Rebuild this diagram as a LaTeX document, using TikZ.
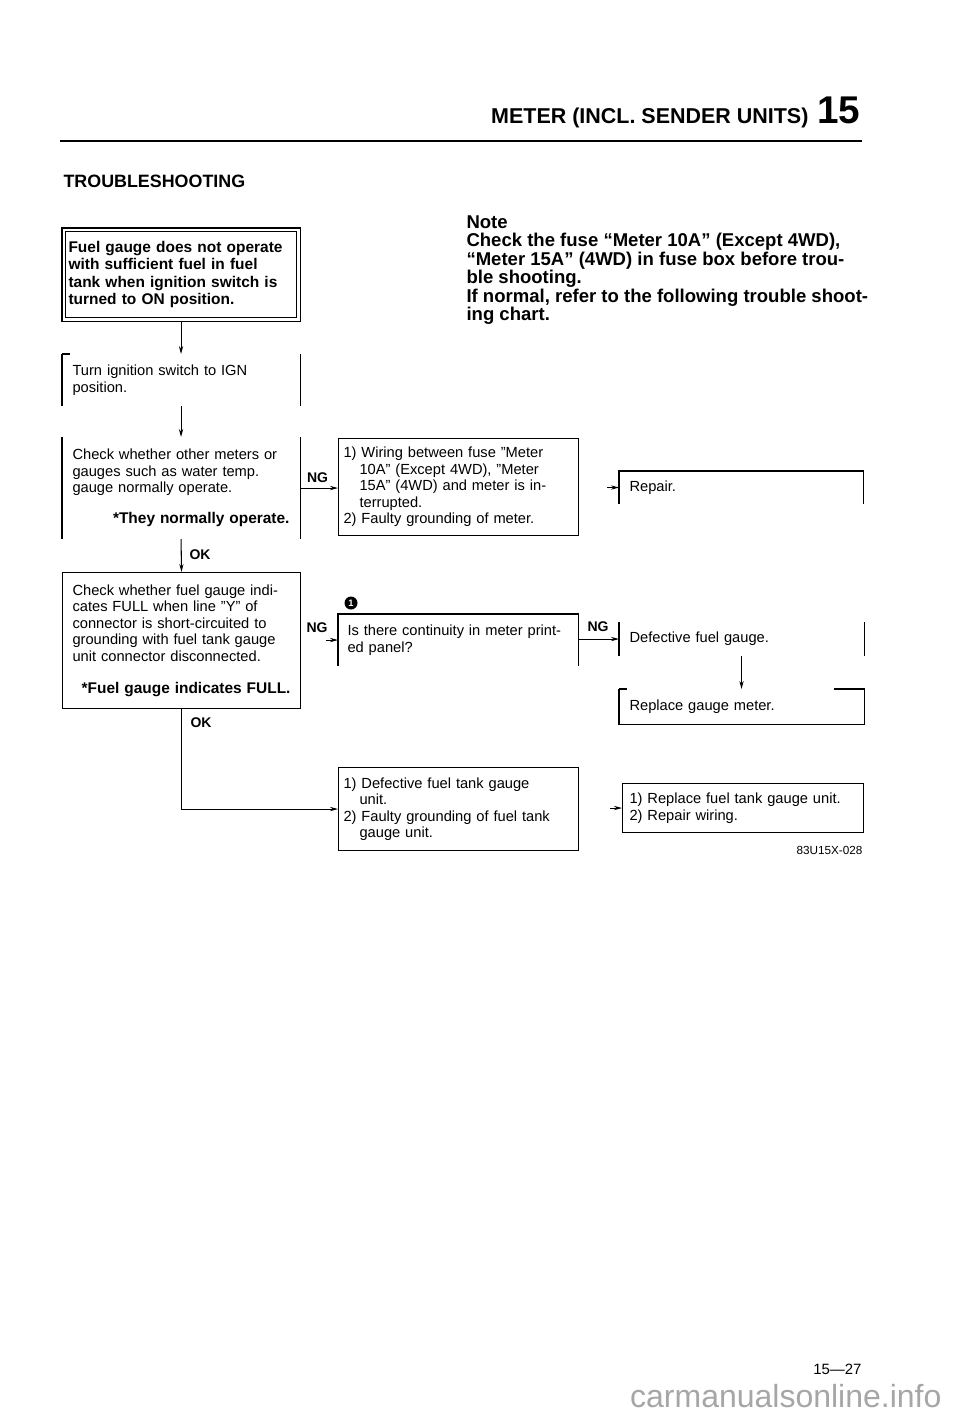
\documentclass[tikz,border=0pt]{standalone}
\usepackage{fontspec}
\setmainfont{Liberation Sans}
\usetikzlibrary{arrows.meta,calc}
\newcommand\indt{\hspace*{12pt}}
\newcommand\bfl{\fontsize{11.6}{12.4}\selectfont\bfseries}
\begin{document}
\begin{tikzpicture}[x=0.75pt,y=-0.75pt,
  line width=0.8pt,
  txt/.style={font=\fontsize{11}{12.4}\selectfont},
  boxn/.style={rectangle, inner sep=0pt, anchor=north west, align=left, txt},
  frame/.style={draw, line width=0.8pt},
  lbl/.style={font=\fontsize{10.5}{12}\selectfont\bfseries, inner sep=0pt},
  arr/.style={-{Stealth[length=6pt,width=3.2pt]}, line width=0.8pt},
  plain/.style={inner sep=0pt}
]
\useasboundingbox (0,0) rectangle (960,1417);

% header
\node[plain, anchor=base east, font=\fontsize{29}{30}\selectfont\bfseries] (pg) at (861,123) {15};
\node[plain, anchor=base east, font=\fontsize{16.1}{18}\selectfont\bfseries] (hd) at (809,123) {METER (INCL. SENDER UNITS)};
\draw[line width=0.9pt] (60,141) -- (480,141);
\draw[line width=1.7pt] (480,141) -- (862,141);
\node[plain, anchor=base west, font=\fontsize{13.4}{15}\selectfont\bfseries] (ts) at (63,187) {TROUBLESHOOTING};

% note
\node[plain, anchor=north west, align=left, font=\fontsize{13.9}{13.9}\selectfont\bfseries] (note) at (466,215)
 {Note\\ Check the fuse “Meter 10A” (Except 4WD),\\ “Meter 15A” (4WD) in fuse box before trou-\\ ble shooting.\\ If normal, refer to the following trouble shoot-\\ ing chart.};

% boxes
\node[boxn, minimum width=177.75pt, minimum height=69pt, text width=168.75pt, font=\fontsize{11.6}{13.1}\selectfont\bfseries] (b1) at (62,228)
 {Fuel gauge does not operate\\ with sufficient fuel in fuel\\ tank when ignition switch is\\ turned to ON position.};
\draw (b1.north west) rectangle (b1.south east);
\draw ([shift={(3.5,3.5)}]b1.north west) rectangle ([shift={(-3.5,-3.5)}]b1.south east);

\node[boxn, minimum width=177.75pt, minimum height=38.25pt, text width=162.75pt] (b2) at (62,354)
 {Turn ignition switch to IGN\\ position.};
\draw (b2.north west) -- (b2.south west);
\draw (b2.north west) -- ++(8,0);
\draw (b2.north east) -- (b2.south east);

\node[boxn, minimum width=177.75pt, minimum height=75.75pt, text width=162.75pt] (b3) at (62,437)
 {Check whether other meters or\\ gauges such as water temp.\\ gauge normally operate.\\[10.9pt] \hspace*{\fill}{\bfl *They normally operate.}};
\draw (b3.north west) -- (b3.south west);
\draw (b3.north east) -- (b3.south east);

\node[boxn, frame, minimum width=180pt, minimum height=72.75pt, text width=172.5pt] (b4) at (338,438)
 {1) Wiring between fuse "Meter\\ \indt 10A" (Except 4WD), "Meter\\ \indt 15A" (4WD) and meter is in-\\ \indt terrupted.\\ 2) Faulty grounding of meter.};

\node[boxn, minimum width=182.25pt, minimum height=24pt, text width=167.25pt] (b5) at (619,471) {Repair.};
\draw (b5.south west) -- (b5.north west) -- (b5.north east) -- (b5.south east);

\node[boxn, frame, minimum width=178.5pt, minimum height=102pt, text width=163.5pt] (b6) at (62,572)
 {Check whether fuel gauge indi-\\ cates FULL when line "Y" of\\ connector is short-circuited to\\ grounding with fuel tank gauge\\ unit connector disconnected.\\[11.5pt] \hspace*{\fill}{\bfl *Fuel gauge indicates FULL.}};

\node[boxn, minimum width=179.25pt, minimum height=38.25pt, text width=165.75pt] (b7) at (338,614)
 {Is there continuity in meter print-\\ ed panel?};
\draw (b7.south west) -- (b7.north west) -- (b7.north east) -- (b7.south east);
\node[circle, fill=black, inner sep=0pt, minimum size=9.75pt, text=white, font=\fontsize{7}{7}\selectfont\bfseries] (m1) at (351,603) {1};

\node[boxn, minimum width=183pt, minimum height=24.75pt, text width=168pt] (b8) at (619,622) {Defective fuel gauge.};
\draw (b8.north west) -- (b8.south west);
\draw (b8.north east) -- (b8.south east);

\node[boxn, minimum width=183pt, minimum height=25.5pt, text width=168pt] (b9) at (619,689) {Replace gauge meter.};
\draw (b9.north west) -- (b9.south west) -- (b9.south east) -- (b9.north east) -- ++(-30,0);
\draw (b9.north west) -- ++(8,0);

\node[boxn, frame, minimum width=180pt, minimum height=62.25pt, text width=172.5pt] (b10) at (338,767)
 {1) Defective fuel tank gauge\\ \indt unit.\\ 2) Faulty grounding of fuel tank\\ \indt gauge unit.};

\node[boxn, frame, minimum width=180.75pt, minimum height=36.75pt, text width=170.25pt] (b11) at (622,783)
 {1) Replace fuel tank gauge unit.\\ 2) Repair wiring.};

% connectors
\draw[arr] (b1.south) -- (b2.north);
\draw[arr] (b2.south) -- (b3.north);
\draw[arr] (b3.south) -- (b6.north);
\draw[arr] (b3.east) -- (b3.east -| b4.west);
\draw[arr] ([xshift=-9pt]b5.west) -- (b5.west);
\draw[arr] ([xshift=-9pt]b7.west) -- (b7.west);
\draw[arr] (b7.east |- b8.west) -- (b8.west);
\draw[arr] (b8.south) -- (b9.north);
\draw[arr] (b6.south) -- (b6.south |- b10.west) -- (b10.west);
\draw[arr] ([xshift=-9pt]b11.west) -- (b11.west);

% labels
\node[lbl] (ng1) at (317.5,478) {NG};
\node[lbl] (ok1) at (200,555) {OK};
\node[lbl] (ng2) at (317,628) {NG};
\node[lbl] (ng3) at (598,627) {NG};
\node[lbl] (ok2) at (201,723) {OK};

% footer
\node[plain, anchor=base east, font=\fontsize{8.8}{10}\selectfont] (code) at (863,854) {83U15X-028};
\node[plain, anchor=base east, font=\fontsize{11.2}{12}\selectfont] (pn) at (862,1374) {15—27};
\node[plain, anchor=base east, font=\fontsize{24}{26}\selectfont, text=gray!70] (wm) at (942,1407) {carmanualsonline.info};
\end{tikzpicture}
\end{document}
